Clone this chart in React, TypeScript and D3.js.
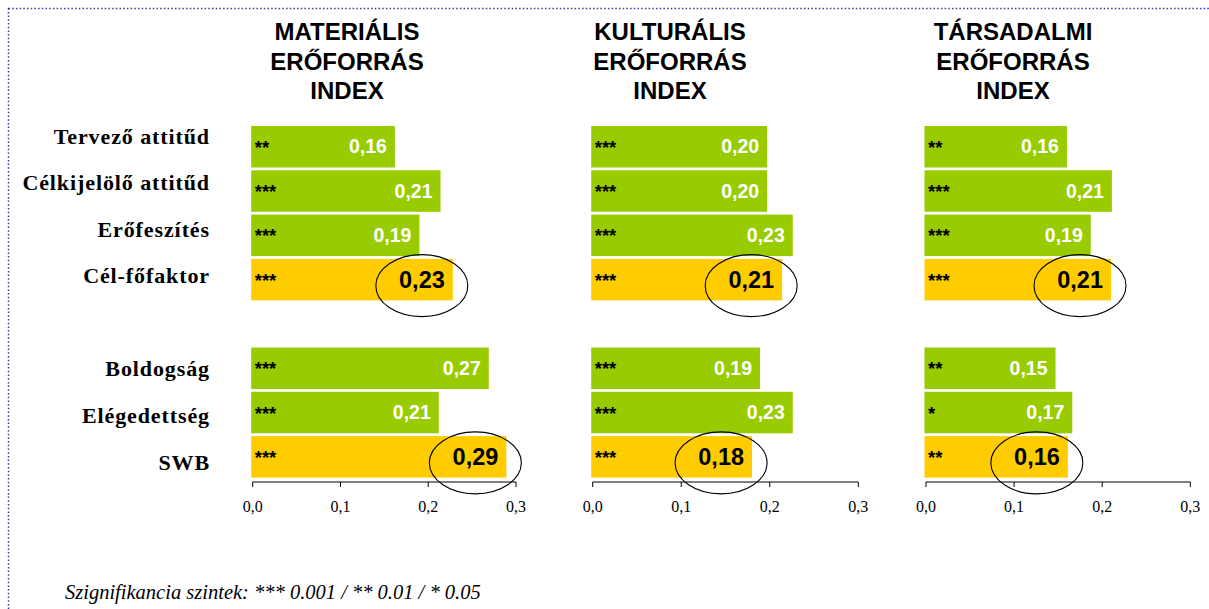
import React from "react";
import * as d3 from "d3";

const categories = [
  "Tervező attitűd",
  "Célkijelölő attitűd",
  "Erőfeszítés",
  "Cél-főfaktor",
  "",
  "Boldogság",
  "Elégedettség",
  "SWB",
];
const highlighted = ["Cél-főfaktor", "SWB"];

const panelTitles = [
  ["MATERIÁLIS", "ERŐFORRÁS", "INDEX"],
  ["KULTURÁLIS", "ERŐFORRÁS", "INDEX"],
  ["TÁRSADALMI", "ERŐFORRÁS", "INDEX"],
];

// values for the non-gap categories, in order
const materialisValues = [0.162, 0.214, 0.19, 0.228, 0.269, 0.212, 0.289];
const materialisStars = ["**", "***", "***", "***", "***", "***", "***"];
const kulturalisValues = [0.197, 0.197, 0.226, 0.214, 0.189, 0.226, 0.18];
const kulturalisStars = ["***", "***", "***", "***", "***", "***", "***"];
const tarsadalmiValues = [0.16, 0.211, 0.187, 0.21, 0.147, 0.166, 0.161];
const tarsadalmiStars = ["**", "***", "***", "***", "**", "*", "**"];

const axisTicks = [0, 0.1, 0.2, 0.3];
const footnote = "Szignifikancia szintek: *** 0.001 / ** 0.01 / * 0.05";

const W = 1209;
const H = 609;
const GREEN = "#99CC00";
const YELLOW = "#FFCC00";
const SERIF = "'Times New Roman', 'Liberation Serif', serif";
const SANS = "Arial, 'Liberation Sans', sans-serif";

const panelLayout = [
  { x0: 252.7, x1: 516, titleX: 347 },
  { x0: 592.7, x1: 858.3, titleX: 670 },
  { x0: 926, x1: 1190.3, titleX: 1013 },
];

const comma = (s: string) => s.replace(".", ",");
const fmtVal = (v: number) => comma(d3.format(".2f")(v));
const fmtTick = (v: number) => comma(d3.format(".1f")(v));

const realCats = categories.filter((c) => c !== "");

export default function App() {
  const y = d3
    .scaleBand<string>()
    .domain(categories.map((c, i) => c || "gap" + i))
    .range([124.6, 479])
    .paddingInner(0.063)
    .paddingOuter(0.0315);
  const yLabel = d3
    .scalePoint<string>()
    .domain(categories.map((c, i) => c || "gap" + i))
    .range([136, 462]);
  const axisY = 482;

  const panels = [
    { values: materialisValues, stars: materialisStars },
    { values: kulturalisValues, stars: kulturalisStars },
    { values: tarsadalmiValues, stars: tarsadalmiStars },
  ];

  return (
    <svg
      width={W}
      height={H}
      style={{ position: "absolute", left: 0, top: 0, background: "#fff" }}
    >
      <rect
        x={8.5}
        y={8.5}
        width={W + 20}
        height={H + 20}
        fill="none"
        stroke="#3535b0"
        strokeWidth={1.5}
        strokeDasharray="1.5,2.2"
      />
      {realCats.map((c) => (
        <text
          key={c}
          x={210}
          y={yLabel(c)! + 7.5}
          textAnchor="end"
          fontFamily={SERIF}
          fontWeight="bold"
          fontSize={22}
          letterSpacing={0.9}
          fill="#000"
        >
          {c}
        </text>
      ))}
      {panels.map((p, pi) => {
        const L = panelLayout[pi];
        const x = d3.scaleLinear().domain([0, 0.3]).range([L.x0, L.x1]);
        return (
          <g key={pi}>
            {panelTitles[pi].map((t, ti) => (
              <text
                key={ti}
                x={L.titleX}
                y={40 + ti * 29.5}
                textAnchor="middle"
                fontFamily={SANS}
                fontWeight="bold"
                fontSize={24}
                fill="#000"
              >
                {t}
              </text>
            ))}
            {realCats.map((c, ci) => {
              const v = p.values[ci];
              const hl = highlighted.includes(c);
              const by = y(c)!;
              const bh = y.bandwidth();
              const cy = by + bh / 2;
              const xEnd = x(v);
              return (
                <g key={c}>
                  <rect
                    x={x(0) - 1.5}
                    y={by}
                    width={xEnd - x(0) + 1.5}
                    height={bh}
                    fill={hl ? YELLOW : GREEN}
                  />
                  <text
                    x={x(0) + 2}
                    y={cy + 7}
                    fontFamily={SANS}
                    fontWeight="bold"
                    fontSize={18.5}
                    fill="#000"
                  >
                    {p.stars[ci]}
                  </text>
                  <text
                    x={xEnd - 8}
                    y={cy + (hl ? 8.5 : 6.5)}
                    textAnchor="end"
                    fontFamily={SANS}
                    fontWeight="bold"
                    fontSize={hl ? 23.5 : 19.5}
                    fill={hl ? "#000" : "#fff"}
                  >
                    {fmtVal(v)}
                  </text>
                  {hl && (
                    <ellipse
                      cx={xEnd - 31}
                      cy={cy + 6}
                      rx={46}
                      ry={31}
                      fill="none"
                      stroke="#000"
                      strokeWidth={1.1}
                    />
                  )}
                </g>
              );
            })}
            <line
              x1={x(0)}
              x2={x(0.3)}
              y1={axisY}
              y2={axisY}
              stroke="#000"
              strokeWidth={1}
            />
            {axisTicks.map((t) => (
              <g key={t}>
                <line
                  x1={x(t)}
                  x2={x(t)}
                  y1={axisY}
                  y2={axisY + 5}
                  stroke="#000"
                  strokeWidth={1}
                />
                <text
                  x={x(t)}
                  y={axisY + 29.5}
                  textAnchor="middle"
                  fontFamily={SERIF}
                  fontSize={16}
                  fill="#000"
                >
                  {fmtTick(t)}
                </text>
              </g>
            ))}
          </g>
        );
      })}
      <text
        x={65}
        y={599}
        fontFamily={SERIF}
        fontStyle="italic"
        fontSize={20.5}
        fill="#000"
      >
        {footnote}
      </text>
    </svg>
  );
}
